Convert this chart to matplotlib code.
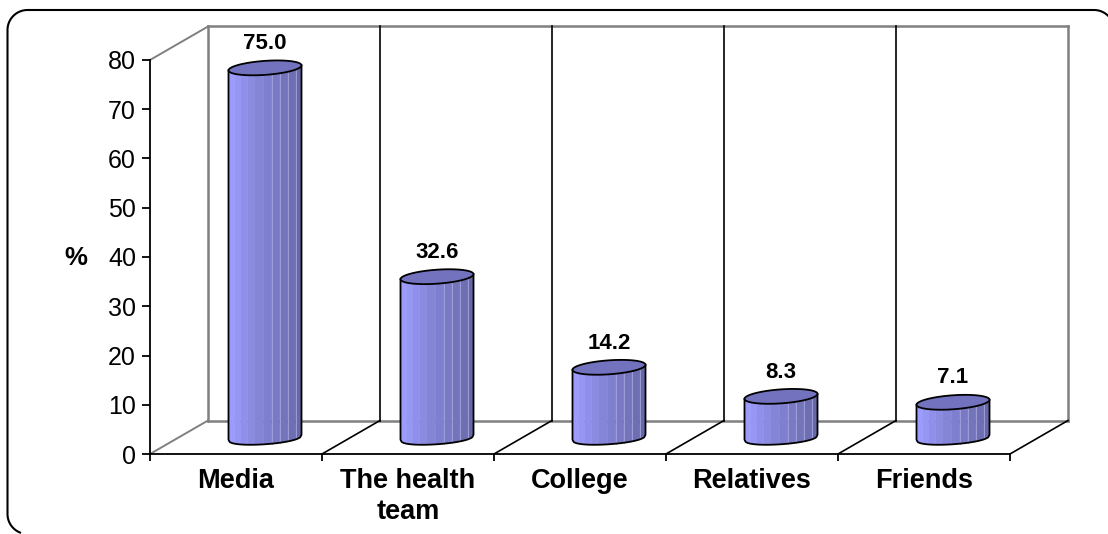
import numpy as np
import matplotlib.pyplot as plt
from matplotlib.lines import Line2D

categories = ["Media", "The health\nteam", "College", "Relatives", "Friends"]
values = [75.0, 32.6, 14.2, 8.3, 7.1]
value_labels = ["75.0", "32.6", "14.2", "8.3", "7.1"]
y_ticks = [0, 10, 20, 30, 40, 50, 60, 70, 80]

W, H = 1108, 534
AX_L, AX_R, AX_T, AX_B = 150, 1010, 60, 454
PX_X = (AX_R - AX_L) / 5.0
PX_Y = (AX_B - AX_T) / 80.0
# depth of the box, in axis units
DX = 58 / PX_X
DY = 33.5 / PX_Y

GREY = "#808080"
CAP = "#7272BE"
LEFT_COL = np.array([0x9C, 0x9C, 0xFF]) / 255
RIGHT_COL = np.array([0x68, 0x68, 0xA8]) / 255

plt.rcParams['font.family'] = ['Liberation Sans', 'DejaVu Sans']

fig = plt.figure(figsize=(W / 100, H / 100), dpi=100)
ax = fig.add_axes([AX_L / W, 1 - AX_B / H, (AX_R - AX_L) / W, (AX_B - AX_T) / H])
ax.set_xlim(0, 5)
ax.set_ylim(0, 80)
ax.patch.set_alpha(0)

for s in ["top", "right"]:
    ax.spines[s].set_visible(False)
for s in ["left", "bottom"]:
    ax.spines[s].set_linewidth(1.3)
    ax.spines[s].set_zorder(1)

ax.set_yticks(y_ticks)
ax.tick_params(axis="y", labelsize=18, length=6, width=1.3, pad=4)
ax.set_xticks(range(6))
ax.set_xticklabels([])
ax.tick_params(axis="x", length=5, width=1.3)


def line(xs, ys, color="black", lw=1.2, z=1):
    ax.plot(xs, ys, color=color, lw=lw, zorder=z, clip_on=False, solid_capstyle="projecting")


# back wall and floor
line([DX, DX], [DY, 80 + DY], GREY, 1.8)
line([5 + DX, 5 + DX], [DY, 80 + DY], GREY, 1.8)
line([DX, 5 + DX], [80 + DY, 80 + DY], GREY, 1.8)
line([DX, 5 + DX], [DY, DY], GREY, 1.8)
line([0, DX], [80, 80 + DY], GREY, 1.4)
line([0, DX], [0, DY], GREY, 1.4)
for i in range(1, 5):
    line([i + DX, i + DX], [DY, 80 + DY])
for i in range(1, 6):
    line([i, i + DX], [0, DY])

# facet edges across the width of a cylinder, and the lighter seams
edges = np.array([0, 0.08, 0.17, 0.26, 0.36, 0.48, 0.59, 0.70, 0.81, 0.92, 1.0])
seams = [0.59, 0.70, 0.81, 0.92]
half_w = 36.5 / PX_X
half_h = 7.0 / PX_Y
tilt = 2.5 / PX_Y


def rim(u, lower=True):
    sign = -1 if lower else 1
    return sign * half_h * np.sqrt(np.clip(1 - u ** 2, 0, 1)) ** 0.8 + tilt * u


for i, v in enumerate(values):
    cx = i + 0.5 + DX / 2
    base = DY / 2
    top = base + v

    for k in range(len(edges) - 1):
        fs = np.linspace(edges[k], edges[k + 1], 6)
        us = 2 * fs - 1
        xs = cx + us * half_w
        col = LEFT_COL + (RIGHT_COL - LEFT_COL) * (k / (len(edges) - 2))
        ax.fill(np.r_[xs, xs[::-1]],
                np.r_[top + rim(us), (base + rim(us))[::-1]],
                color=col, lw=0.3, zorder=3, clip_on=False)

    for f in seams:
        u = 2 * f - 1
        x = cx + u * half_w
        line([x, x], [base + rim(u), top + rim(u)], "#A4A4DC", 0.6, 4)

    # outline of the body
    us = np.linspace(-1, 1, 60)
    xs = cx + us * half_w
    line(np.r_[xs[0], xs, xs[-1]],
         np.r_[top + rim(-1.0), base + rim(us), top + rim(1.0)], "black", 1.3, 5)

    # cap
    ts = np.linspace(0, 2 * np.pi, 80)
    cap_x = cx + np.cos(ts) * half_w
    cap_y = top + np.sin(ts) * half_h + tilt * np.cos(ts)
    ax.fill(cap_x, cap_y, facecolor=CAP, edgecolor="black", lw=1.3, zorder=6, clip_on=False)

    ax.annotate(value_labels[i], (cx, top), xytext=(0, 17.5), textcoords="offset points",
                ha="center", va="center", fontsize=16, fontweight="bold", zorder=7,
                annotation_clip=False)

for i, name in enumerate(categories):
    parts = name.split("\n")
    for n, part in enumerate(parts):
        ax.annotate(part, (i + 0.5, 0), xytext=(0, -(24.5 + n * 22.3)), textcoords="offset points",
                    ha="center", va="baseline", fontsize=19.5, fontweight="bold", annotation_clip=False)

fig.text(76 / W, 1 - 258 / H, "%", ha="center", va="center", fontsize=18.5, fontweight="bold")

# frame round the chart, open where it runs off the right and bottom edges
R = 20
a1 = np.radians(np.linspace(248, 180, 20))
a2 = np.radians(np.linspace(180, 90, 20))
a3 = np.radians(np.linspace(90, 46, 20))
frame_x = np.r_[27.5 + R * np.cos(a1), 27.5 + R * np.cos(a2), 1094 + R * np.cos(a3)]
frame_y = np.r_[20 + R * np.sin(a1), 504 + R * np.sin(a2), 504 + R * np.sin(a3)]
fig.add_artist(Line2D(frame_x, frame_y, transform=None, color="black", lw=1.5))

fig.savefig("out.png", dpi=100)
